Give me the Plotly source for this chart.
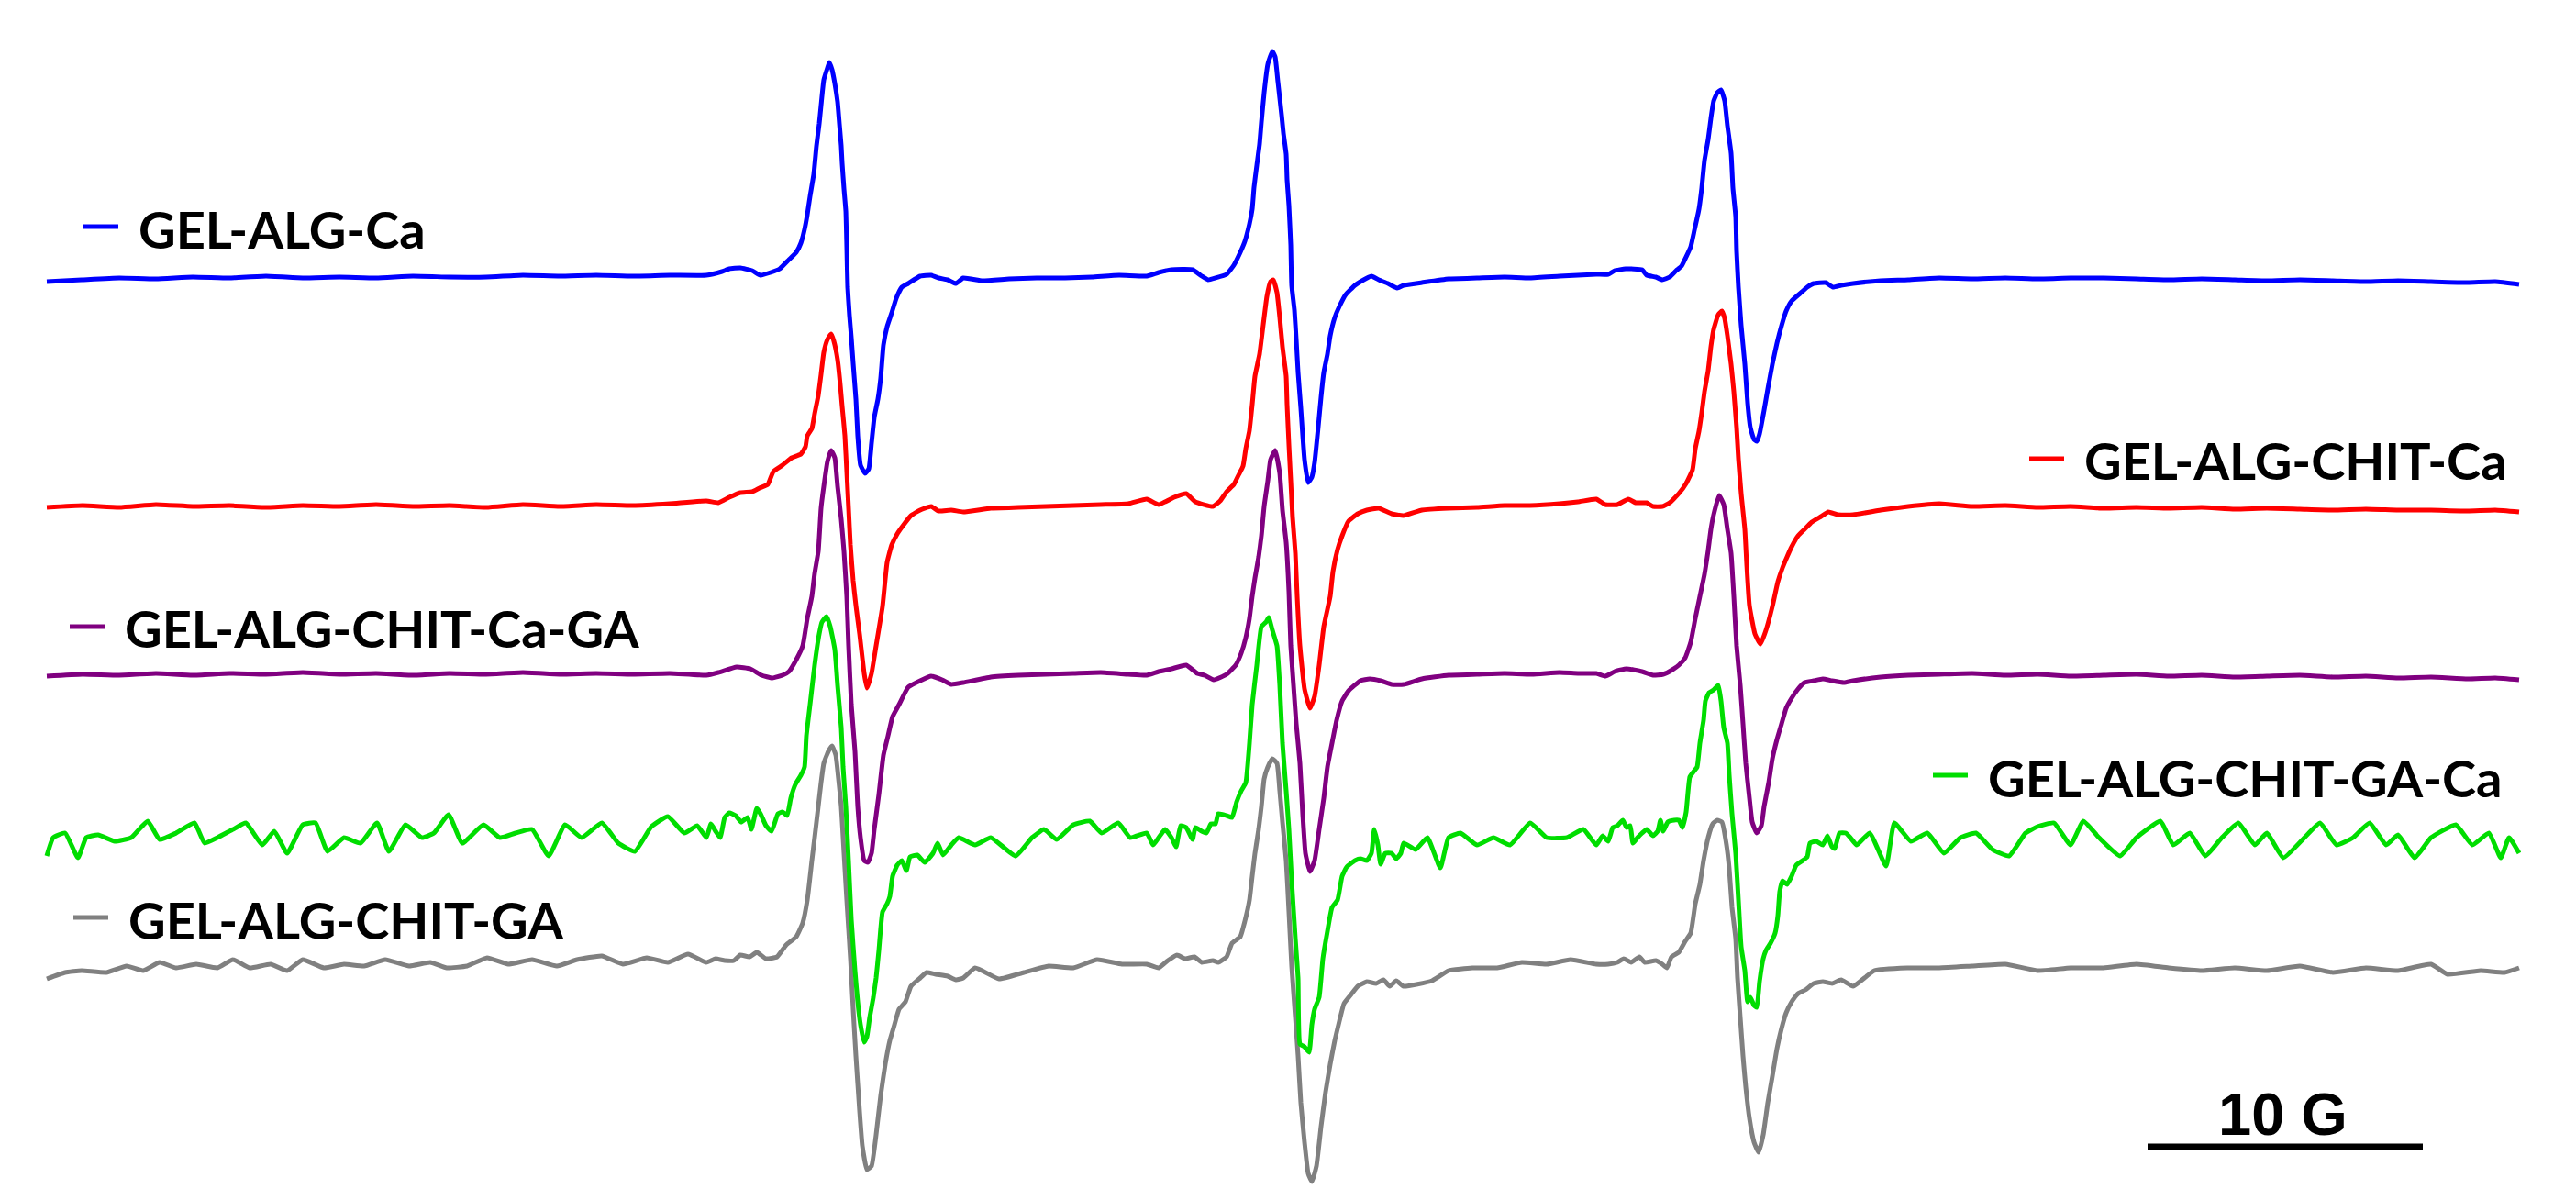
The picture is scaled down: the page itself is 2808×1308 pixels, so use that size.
import plotly.graph_objects as go

# sweep settings: the field axis in gauss, data given per sweep point
FIELD_START = 3310.0
G_PER_PT = 1 / 30

# (sweep point, first-derivative amplitude, a.u.)
GEL_ALG_CA = [
    (51, -4), (89, -2), (130, 0), (170, -1), (210, 1), (250, 0), (290, 2), (330, 0), (370, 1), (410, 0),
    (450, 2), (490, 1), (530, 1), (570, 3), (610, 2), (650, 3), (690, 2), (730, 3), (770, 3), (787, 7),
    (795, 10), (807, 11), (820, 8), (829, 3), (840, 6), (850, 10), (860, 20), (868, 28), (873, 38), (877, 53),
    (880, 69), (883, 89), (887, 113), (890, 144), (893, 168), (895, 188), (898, 216), (902, 229), (904, 235),
    (907, 227), (910, 212), (913, 192), (915, 168), (917, 144), (918, 125), (920, 97), (922, 73), (923, 34),
    (924, -10), (926, -41), (928, -65), (930, -93), (933, -132), (935, -172), (938, -204), (943, -213),
    (947, -208), (950, -180), (953, -152), (957, -132), (960, -109), (963, -73), (967, -53), (972, -38),
    (977, -22), (983, -10), (990, -6), (1003, 2), (1015, 3), (1023, 0), (1033, -2), (1042, -6), (1050, 0),
    (1071, -3), (1100, -1), (1130, 0), (1161, 0), (1190, 1), (1220, 3), (1250, 2), (1263, 6), (1277, 9),
    (1300, 9), (1310, 2), (1317, -2), (1325, 0), (1337, 4), (1345, 14), (1352, 28), (1357, 40), (1362, 59),
    (1365, 75), (1367, 99), (1370, 123), (1373, 146), (1375, 170), (1378, 202), (1382, 233), (1387, 247),
    (1390, 241), (1393, 214), (1397, 178), (1399, 158), (1402, 135), (1403, 107), (1405, 79), (1407, 36),
    (1408, -8), (1411, -35), (1413, -67), (1415, -103), (1418, -142), (1422, -198), (1426, -223), (1430, -217),
    (1433, -201), (1437, -162), (1440, -130), (1443, -103), (1447, -83), (1450, -63), (1455, -43), (1460, -31),
    (1467, -18), (1477, -8), (1483, -4), (1495, 2), (1503, -2), (1513, -6), (1523, -11), (1530, -8), (1550, -5),
    (1579, -1), (1610, 0), (1640, 1), (1668, 0), (1700, 2), (1720, 3), (1740, 4), (1753, 4), (1760, 8),
    (1772, 10), (1790, 9), (1795, 3), (1805, 1), (1812, -2), (1820, 1), (1827, 8), (1833, 13), (1838, 23),
    (1843, 34), (1847, 52), (1852, 75), (1855, 98), (1858, 128), (1862, 151), (1865, 174), (1868, 193),
    (1872, 202), (1876, 205), (1880, 193), (1883, 166), (1887, 136), (1889, 98), (1892, 67), (1893, 29),
    (1895, -10), (1898, -52), (1902, -94), (1905, -136), (1908, -163), (1912, -176), (1915, -178), (1918, -170),
    (1923, -144), (1927, -121), (1932, -94), (1937, -71), (1942, -52), (1947, -36), (1953, -25), (1962, -17),
    (1970, -10), (1977, -6), (1990, -5), (1998, -10), (2007, -8), (2020, -6), (2050, -3), (2080, -2), (2114, 0),
    (2150, -1), (2186, 0), (2221, -1), (2257, 0), (2293, 0), (2329, -1), (2364, -2), (2400, -1), (2436, -2),
    (2471, -3), (2507, -2), (2543, -3), (2579, -4), (2614, -3), (2650, -4), (2690, -5), (2720, -4), (2746, -7),
]

GEL_ALG_CHIT_CA = [
    (51, -1), (90, 1), (130, -1), (170, 2), (210, 0), (250, 1), (290, -1), (330, 1), (370, 0), (410, 2),
    (450, 0), (490, 1), (530, -1), (570, 2), (610, 0), (650, 2), (690, 1), (730, 3), (770, 6), (783, 4),
    (795, 10), (807, 15), (820, 16), (828, 20), (837, 24), (843, 38), (853, 45), (863, 53), (873, 57),
    (878, 65), (880, 77), (885, 85), (888, 101), (892, 121), (895, 144), (898, 168), (902, 182), (906, 188),
    (909, 180), (913, 160), (916, 132), (918, 109), (921, 77), (923, 38), (925, -2), (927, -42), (930, -81),
    (933, -108), (937, -139), (942, -182), (945, -198), (950, -182), (955, -152), (962, -109), (967, -61),
    (972, -42), (978, -30), (985, -20), (993, -10), (1003, -4), (1015, 0), (1023, -5), (1037, -4), (1050, -6),
    (1080, -2), (1110, -1), (1140, 0), (1170, 1), (1200, 2), (1230, 3), (1250, 8), (1263, 2), (1280, 10),
    (1293, 14), (1303, 5), (1322, 0), (1330, 6), (1337, 16), (1345, 24), (1350, 34), (1355, 44), (1358, 63),
    (1362, 83), (1365, 111), (1368, 142), (1373, 166), (1377, 198), (1381, 229), (1385, 245), (1388, 247),
    (1392, 233), (1395, 206), (1398, 174), (1402, 142), (1403, 111), (1405, 67), (1407, 28), (1409, -12),
    (1412, -51), (1414, -98), (1417, -152), (1422, -199), (1428, -220), (1433, -207), (1438, -173),
    (1443, -131), (1450, -98), (1453, -71), (1458, -47), (1463, -32), (1470, -16), (1480, -8), (1490, -4),
    (1503, -2), (1517, -8), (1530, -10), (1550, -4), (1579, -2), (1610, -1), (1640, 1), (1668, 1), (1700, 3),
    (1720, 5), (1740, 8), (1750, 2), (1763, 2), (1775, 8), (1783, 4), (1795, 4), (1802, 0), (1812, 0),
    (1820, 4), (1830, 14), (1838, 25), (1845, 40), (1848, 63), (1852, 82), (1855, 102), (1858, 125),
    (1862, 148), (1865, 174), (1868, 193), (1873, 209), (1877, 213), (1880, 205), (1883, 186), (1887, 155),
    (1890, 125), (1893, 86), (1895, 52), (1898, 14), (1902, -25), (1904, -63), (1907, -108), (1913, -139),
    (1919, -150), (1925, -135), (1932, -109), (1938, -82), (1943, -67), (1948, -55), (1953, -44), (1960, -32),
    (1967, -25), (1975, -17), (1985, -11), (1993, -6), (2003, -9), (2020, -9), (2050, -4), (2080, 0),
    (2114, 3), (2150, 0), (2186, 1), (2221, -1), (2257, 0), (2293, -2), (2329, -1), (2364, -2), (2400, -1),
    (2436, -3), (2471, -2), (2507, -3), (2543, -4), (2579, -3), (2614, -4), (2650, -4), (2690, -5),
    (2720, -4), (2746, -6),
]

GEL_ALG_CHIT_CA_GA = [
    (51, -2), (90, 0), (130, -1), (170, 1), (210, -1), (250, 1), (290, 0), (330, 2), (370, 0), (410, 1),
    (450, -1), (490, 1), (530, 0), (570, 2), (610, 0), (650, 1), (690, 0), (730, 1), (770, -1), (783, 2),
    (803, 8), (818, 6), (830, -1), (842, -4), (853, -1), (860, 3), (868, 16), (875, 31), (880, 61), (885, 85),
    (888, 110), (892, 134), (895, 181), (898, 205), (902, 232), (906, 244), (910, 236), (913, 205), (917, 169),
    (920, 134), (923, 85), (925, 31), (928, -33), (932, -84), (935, -144), (938, -178), (942, -203),
    (946, -205), (950, -195), (953, -169), (958, -131), (963, -88), (968, -67), (973, -46), (980, -33),
    (990, -14), (1003, -7), (1015, -2), (1027, -6), (1037, -11), (1050, -9), (1080, -3), (1110, -1),
    (1140, 0), (1170, 1), (1200, 2), (1230, 0), (1250, -1), (1263, 3), (1277, 6), (1293, 10), (1305, 1),
    (1313, -1), (1323, -6), (1337, 0), (1347, 10), (1353, 23), (1358, 40), (1362, 61), (1365, 85),
    (1368, 105), (1372, 128), (1375, 151), (1378, 183), (1382, 211), (1385, 234), (1390, 244), (1395, 219),
    (1398, 179), (1402, 144), (1405, 90), (1407, 31), (1410, -12), (1413, -54), (1417, -97), (1420, -152),
    (1423, -195), (1428, -215), (1433, -203), (1438, -169), (1443, -135), (1447, -101), (1452, -75),
    (1457, -50), (1463, -29), (1470, -18), (1483, -7), (1493, -5), (1505, -7), (1517, -11), (1530, -11),
    (1550, -5), (1579, -1), (1610, 0), (1640, 1), (1670, 0), (1700, 2), (1720, 1), (1740, 1), (1750, -2),
    (1760, 3), (1773, 6), (1790, 3), (1802, -1), (1813, 0), (1823, 5), (1830, 10), (1837, 18), (1843, 35),
    (1848, 61), (1853, 85), (1858, 109), (1862, 135), (1865, 158), (1868, 174), (1874, 195), (1879, 185),
    (1883, 158), (1887, 132), (1890, 85), (1893, 31), (1897, -12), (1900, -54), (1903, -97), (1907, -135),
    (1910, -161), (1915, -173), (1920, -165), (1923, -144), (1928, -118), (1932, -92), (1937, -71),
    (1942, -54), (1947, -37), (1953, -26), (1960, -16), (1967, -9), (1977, -7), (1987, -5), (1997, -7),
    (2010, -9), (2020, -7), (2050, -3), (2080, -1), (2114, 0), (2150, 1), (2186, -1), (2221, 0), (2257, -2),
    (2293, -1), (2329, 0), (2364, -2), (2400, -1), (2436, -3), (2471, -2), (2507, -1), (2543, -3),
    (2579, -2), (2614, -4), (2650, -3), (2690, -5), (2720, -4), (2746, -6),
]

GEL_ALG_CHIT_GA_CA = [
    (51, -18), (58, 2), (71, 7), (85, -20), (94, 2), (107, 5), (125, -2), (143, 2), (161, 20), (174, 0),
    (192, 7), (212, 18), (223, -4), (237, 2), (254, 11), (268, 18), (286, -6), (299, 9), (313, -15),
    (330, 16), (344, 18), (357, -13), (375, 2), (393, -4), (411, 18), (424, -13), (442, 16), (460, 2),
    (473, 7), (489, 27), (504, -4), (527, 16), (545, 2), (562, 7), (580, 11), (598, -18), (616, 16),
    (634, 2), (656, 18), (674, -4), (692, -13), (710, 14), (728, 25), (746, 7), (760, 15), (770, 2),
    (775, 17), (780, 9), (785, 2), (790, 24), (795, 29), (802, 26), (808, 19), (815, 24), (819, 11),
    (825, 34), (829, 28), (835, 15), (841, 9), (848, 28), (853, 30), (858, 26), (862, 45), (867, 60),
    (873, 70), (877, 79), (879, 113), (883, 147), (888, 190), (893, 224), (896, 237), (901, 243), (905, 232),
    (910, 207), (913, 168), (917, 122), (919, 79), (922, 36), (925, -23), (928, -87), (932, -143),
    (935, -177), (938, -202), (942, -221), (945, -215), (948, -194), (952, -172), (955, -151), (958, -121),
    (962, -79), (967, -70), (970, -62), (973, -40), (978, -28), (983, -23), (988, -34), (992, -19),
    (1000, -17), (1008, -25), (1017, -15), (1022, -4), (1028, -17), (1037, -6), (1045, 2), (1063, -6),
    (1080, 2), (1107, -18), (1125, 2), (1138, 11), (1152, 0), (1170, 16), (1188, 20), (1201, 7), (1219, 18),
    (1232, 2), (1250, 7), (1257, -6), (1263, 2), (1270, 11), (1277, 2), (1282, -8), (1287, 15), (1293, 13),
    (1300, 0), (1303, 13), (1310, 9), (1315, 7), (1320, 17), (1325, 17), (1328, 28), (1337, 26), (1343, 24),
    (1348, 41), (1353, 53), (1358, 62), (1362, 105), (1365, 147), (1370, 190), (1375, 232), (1380, 237),
    (1383, 242), (1387, 228), (1392, 211), (1395, 168), (1398, 105), (1402, 53), (1405, 11), (1408, -45),
    (1412, -108), (1415, -151), (1417, -223), (1422, -226), (1427, -232), (1430, -202), (1433, -185),
    (1438, -172), (1442, -130), (1447, -100), (1452, -74), (1458, -66), (1463, -40), (1468, -30),
    (1477, -23), (1483, -21), (1490, -23), (1495, -15), (1498, 11), (1502, -6), (1505, -27), (1510, -15),
    (1517, -15), (1522, -21), (1527, -15), (1530, -4), (1543, -11), (1556, 2), (1570, -31), (1579, 2),
    (1592, 7), (1610, -6), (1628, 2), (1646, -6), (1668, 18), (1686, 2), (1708, 2), (1726, 11), (1740, -6),
    (1747, 4), (1753, -2), (1758, 13), (1763, 15), (1769, 21), (1773, 13), (1777, 15), (1780, -4),
    (1785, 2), (1790, 7), (1795, 11), (1802, 4), (1807, 9), (1810, 21), (1813, 9), (1818, 19), (1825, 21),
    (1830, 21), (1834, 13), (1838, 30), (1842, 68), (1847, 75), (1850, 79), (1853, 105), (1857, 130),
    (1859, 151), (1863, 160), (1868, 163), (1873, 168), (1876, 151), (1879, 122), (1883, 105), (1885, 70),
    (1888, 28), (1892, -15), (1895, -66), (1898, -117), (1902, -143), (1905, -177), (1908, -172),
    (1912, -181), (1915, -183), (1918, -155), (1922, -130), (1925, -121), (1930, -113), (1935, -102),
    (1938, -83), (1940, -57), (1943, -45), (1948, -49), (1953, -40), (1958, -28), (1965, -23), (1970, -19),
    (1973, -4), (1980, -2), (1987, -6), (1992, 4), (1997, -8), (2000, -10), (2005, 7), (2012, 7), (2017, 2),
    (2024, -6), (2038, 7), (2056, -29), (2065, 18), (2083, -2), (2101, 7), (2119, -15), (2137, 2), (2154, 7),
    (2172, -11), (2190, -18), (2208, 7), (2221, 14), (2239, 18), (2257, -6), (2271, 20), (2288, 2),
    (2311, -18), (2329, 2), (2355, 20), (2369, -6), (2387, 7), (2404, -18), (2422, 2), (2440, 18),
    (2458, -6), (2471, 7), (2489, -20), (2512, 2), (2529, 18), (2547, -6), (2565, 2), (2583, 18), (2601, -6),
    (2614, 5), (2632, -20), (2650, 2), (2677, 16), (2695, -6), (2713, 7), (2726, -20), (2735, 2), (2746, -15),
]

GEL_ALG_CHIT_GA = [
    (51, -12), (71, -5), (89, -3), (116, -5), (138, 2), (156, -3), (174, 6), (192, 0), (214, 4), (237, 0),
    (254, 9), (272, 0), (295, 4), (313, -3), (330, 9), (353, 0), (375, 4), (397, 2), (420, 9), (446, 2),
    (469, 6), (487, 0), (509, 2), (531, 11), (554, 4), (580, 9), (607, 2), (629, 9), (656, 13), (679, 4),
    (705, 11), (728, 6), (750, 15), (770, 6), (780, 10), (790, 8), (800, 8), (807, 14), (817, 12), (825, 17),
    (835, 10), (847, 12), (857, 25), (868, 34), (875, 49), (880, 74), (885, 117), (888, 142), (892, 176),
    (895, 202), (898, 223), (903, 236), (907, 242), (911, 232), (914, 206), (917, 176), (920, 125), (923, 74),
    (927, 10), (930, -45), (933, -96), (937, -156), (940, -194), (945, -220), (950, -216), (955, -182),
    (960, -139), (965, -105), (970, -79), (975, -62), (980, -45), (987, -37), (993, -20), (1003, -11),
    (1010, -5), (1020, -7), (1033, -9), (1042, -13), (1050, -11), (1063, 0), (1089, -12), (1116, -5),
    (1143, 2), (1170, 0), (1196, 9), (1223, 4), (1250, 4), (1263, 0), (1273, 8), (1283, 14), (1292, 10),
    (1302, 12), (1310, 6), (1322, 8), (1328, 6), (1337, 12), (1343, 27), (1352, 34), (1357, 51), (1362, 74),
    (1365, 100), (1368, 125), (1372, 151), (1375, 176), (1378, 206), (1382, 219), (1387, 228), (1392, 223),
    (1395, 193), (1398, 159), (1402, 117), (1405, 61), (1408, 2), (1412, -54), (1415, -96), (1418, -147),
    (1422, -190), (1426, -224), (1430, -233), (1435, -216), (1440, -173), (1445, -135), (1450, -105),
    (1455, -79), (1460, -58), (1465, -39), (1472, -30), (1480, -20), (1490, -15), (1500, -17), (1508, -13),
    (1515, -20), (1522, -14), (1530, -20), (1561, -14), (1579, -3), (1605, 0), (1632, 0), (1659, 6),
    (1686, 4), (1712, 9), (1740, 4), (1753, 4), (1763, 6), (1770, 10), (1778, 6), (1787, 12), (1793, 6),
    (1805, 8), (1812, 4), (1817, 0), (1822, 12), (1830, 17), (1837, 29), (1843, 38), (1848, 70), (1853, 91),
    (1857, 117), (1862, 142), (1867, 157), (1872, 161), (1877, 159), (1882, 134), (1885, 108), (1888, 66),
    (1892, 32), (1894, -11), (1897, -54), (1900, -96), (1903, -130), (1907, -164), (1912, -190),
    (1917, -201), (1922, -182), (1927, -147), (1932, -118), (1937, -88), (1942, -66), (1947, -49),
    (1953, -37), (1960, -28), (1968, -24), (1977, -17), (1987, -15), (1997, -17), (2007, -13), (2020, -20),
    (2043, -3), (2079, 0), (2114, 0), (2150, 2), (2186, 4), (2221, -3), (2257, 0), (2293, 0), (2329, 4),
    (2364, 0), (2400, -3), (2436, 0), (2471, -3), (2507, 2), (2543, -5), (2579, 0), (2614, -3), (2650, 4),
    (2668, -7), (2704, -3), (2730, -5), (2746, 0),
]

SAMPLES = ["GEL-ALG-Ca", "GEL-ALG-CHIT-Ca", "GEL-ALG-CHIT-Ca-GA", "GEL-ALG-CHIT-GA-Ca", "GEL-ALG-CHIT-GA"]
SPECTRA = [GEL_ALG_CA, GEL_ALG_CHIT_CA, GEL_ALG_CHIT_CA_GA, GEL_ALG_CHIT_GA_CA, GEL_ALG_CHIT_GA]
COLORS = ["#0000ff", "#ff0000", "#800080", "#00dd00", "#808080"]
OFFSETS = [1005, 756, 573, 393, 253]   # vertical stacking of the spectra

W, H = 2808, 1308
N_PTS = 2808
LABEL_FONT = "Lato, Liberation Sans, Arial, sans-serif"


def field(pt):
    return FIELD_START + pt * G_PER_PT


fig = go.Figure()

# grey first so the upper spectra sit on top
for name, spec, color, off in reversed(list(zip(SAMPLES, SPECTRA, COLORS, OFFSETS))):
    fig.add_trace(go.Scatter(
        x=[field(p) for p, _ in spec],
        y=[a + off for _, a in spec],
        mode="lines", name=name,
        line=dict(color=color, width=5, shape="spline", smoothing=0.4),
        hoverinfo="skip",
    ))

# in-plot labels: short coloured dash + bold name (pixel positions of the dash)
label_pos = [(91, 247), (2212, 500), (76, 683), (2107, 845), (80, 1000)]
shapes = []
annotations = []
for name, color, (px, py) in zip(SAMPLES, COLORS, label_pos):
    shapes.append(dict(type="line", xref="paper", yref="paper",
                       x0=px / W, x1=(px + 38) / W, y0=1 - py / H, y1=1 - py / H,
                       line=dict(color=color, width=5)))
    annotations.append(dict(xref="paper", yref="paper", x=(px + 58) / W, y=1 - (py + 2) / H,
                            xanchor="left", yanchor="middle", showarrow=False,
                            text="<b>%s</b>" % name,
                            font=dict(family=LABEL_FONT, size=56, color="black")))

# 10 G scale bar
bar_x0 = field(2341)
shapes.append(dict(type="line", xref="x", yref="paper", x0=bar_x0, x1=bar_x0 + 10,
                   y0=1 - 1250 / H, y1=1 - 1250 / H, line=dict(color="black", width=7)))
annotations.append(dict(xref="x", yref="paper", x=bar_x0 + 4.9, y=1 - 1214 / H,
                        xanchor="center", yanchor="middle", showarrow=False, text="<b>10 G</b>",
                        font=dict(family="Liberation Sans, Arial, sans-serif", size=65, color="black")))

fig.update_layout(
    width=W, height=H,
    margin=dict(l=0, r=0, t=0, b=0),
    paper_bgcolor="white", plot_bgcolor="white",
    showlegend=False,
    shapes=shapes, annotations=annotations,
    xaxis=dict(range=[field(0), field(N_PTS)], visible=False, fixedrange=True),
    yaxis=dict(range=[0, H], visible=False, fixedrange=True),
)

fig.write_html("out.html", config={"displayModeBar": False},
               post_script="document.body.style.margin='0';document.body.style.overflow='hidden';")
